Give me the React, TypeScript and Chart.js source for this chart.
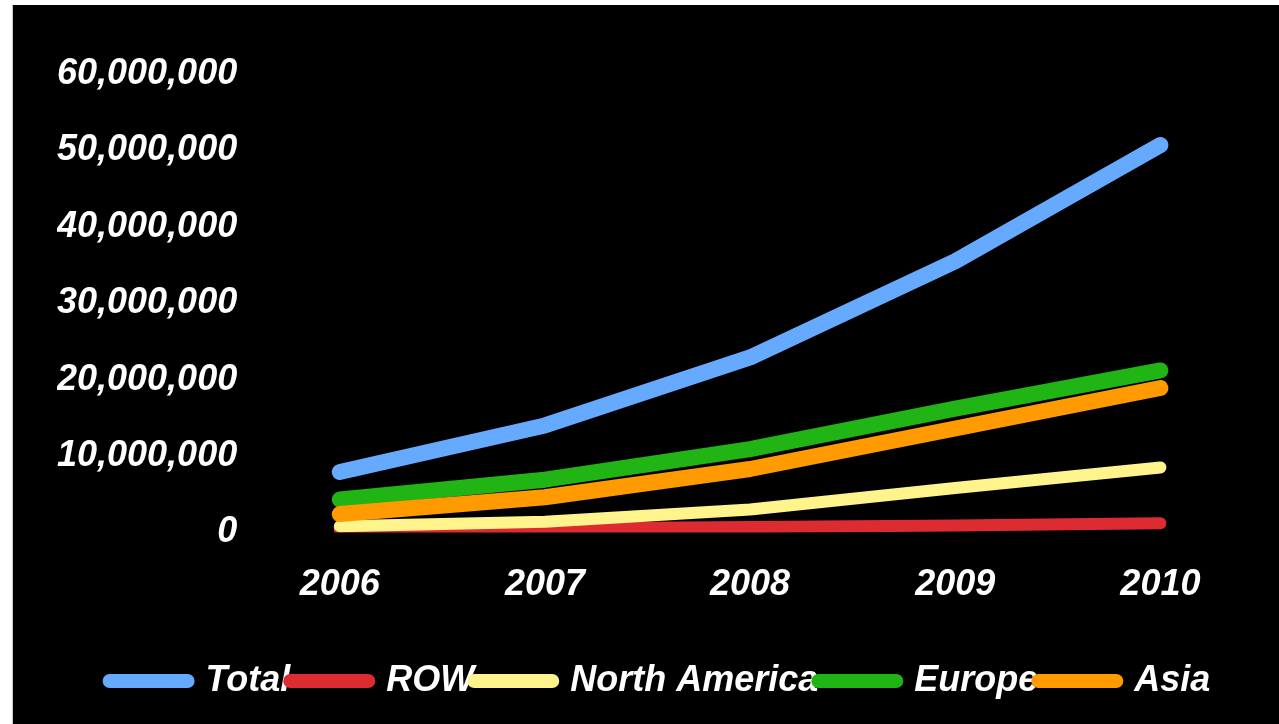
import React, { useEffect, useRef } from "react";
import { Chart, registerables } from "chart.js";

Chart.register(...registerables);

const years = ["2006", "2007", "2008", "2009", "2010"];
const totalValues = [7900000, 14000000, 22900000, 35500000, 50700000];
const rowValues = [400000, 500000, 700000, 900000, 1200000];
const northAmericaValues = [800000, 1400000, 3000000, 5800000, 8500000];
const europeValues = [4300000, 6900000, 10900000, 16200000, 21200000];
const asiaValues = [2400000, 4600000, 8300000, 13600000, 18900000];
const yTicks = [0, 10000000, 20000000, 30000000, 40000000, 50000000, 60000000];

const FONT = "'Liberation Sans', Arial, sans-serif";

export default function App() {
  const canvasRef = useRef<HTMLCanvasElement | null>(null);

  useEffect(() => {
    if (!canvasRef.current) return;
    const font = { family: FONT, size: 36, weight: "bold" as const, style: "italic" as const };
    const mk = (label: string, data: number[], color: string, width: number, order: number) => ({
      label,
      data,
      borderColor: color,
      backgroundColor: color,
      borderWidth: width,
      borderCapStyle: "round" as const,
      borderJoinStyle: "round" as const,
      pointRadius: 0,
      pointHoverRadius: 0,
      tension: 0,
      fill: false,
      order,
    });
    const chart = new Chart(canvasRef.current, {
      type: "line",
      data: {
        labels: years,
        datasets: [
          mk("Total", totalValues, "#66aaff", 16, 5),
          mk("ROW", rowValues, "#dc2c32", 12, 4),
          mk("North America", northAmericaValues, "#fff38b", 12, 3),
          mk("Europe", europeValues, "#20b414", 16, 2),
          mk("Asia", asiaValues, "#ff9a00", 16, 1),
        ],
      },
      options: {
        animation: false,
        responsive: true,
        maintainAspectRatio: false,
        layout: { padding: { top: 69, left: 44, right: 16, bottom: 15 } },
        scales: {
          x: {
            offset: true,
            grid: { display: false, drawTicks: false },
            border: { display: false },
            ticks: { color: "#ffffff", font, padding: 31, maxRotation: 0, autoSkip: false },
          },
          y: {
            min: yTicks[0],
            max: yTicks[yTicks.length - 1],
            grid: { display: false, drawTicks: false },
            border: { display: false },
            afterBuildTicks: (axis: any) => {
              axis.ticks = yTicks.map((v) => ({ value: v }));
            },
            ticks: {
              color: "#ffffff",
              font,
              padding: 0,
              callback: (v: any) => Number(v).toLocaleString("en-US"),
            },
          },
        },
        plugins: {
          tooltip: { enabled: false },
          legend: {
            position: "bottom",
            title: { display: true, text: "", padding: { top: 11, bottom: 0 }, font: { size: 12 } },
            labels: {
              usePointStyle: true,
              pointStyle: "line",
              pointStyleWidth: 78,
              padding: 0,
              color: "#ffffff",
              font,
              sort: (a: any, b: any) => a.datasetIndex - b.datasetIndex,
              generateLabels: (c: any) =>
                Chart.defaults.plugins.legend.labels.generateLabels(c).map((item: any) => ({
                  ...item,
                  lineCap: "round",
                  lineWidth: 14,
                  strokeStyle: c.data.datasets[item.datasetIndex].borderColor,
                  fillStyle: c.data.datasets[item.datasetIndex].borderColor,
                })),
            },
          },
        },
      },
    });
    return () => chart.destroy();
  }, []);

  return (
    <div
      style={{
        position: "fixed",
        left: 12,
        top: 5,
        width: 1267,
        height: 719,
        background: "#000000",
        borderLeft: "1px solid #c8c8c8",
        boxSizing: "border-box",
      }}
    >
      <canvas ref={canvasRef} />
    </div>
  );
}
